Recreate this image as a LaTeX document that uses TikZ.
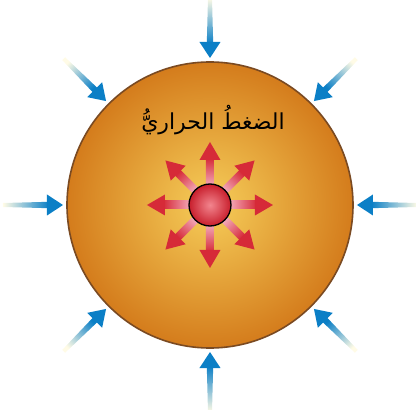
\documentclass[tikz,border=0pt]{standalone}
\usepackage{fontspec}
\newfontfamily\arabicfont[Script=Arabic]{DejaVu Sans}
\TeXXeTstate=1
\definecolor{suninner}{HTML}{F6CE5A}
\definecolor{sunouter}{HTML}{D47C1C}
\definecolor{sunedge}{HTML}{7A4A22}
\definecolor{pressblue}{HTML}{0B7FC6}
\definecolor{palecream}{HTML}{FFFBE6}
\definecolor{heatred}{HTML}{D62A38}
\definecolor{heatpink}{HTML}{F4B0C0}
\definecolor{ballhi}{HTML}{F2858E}
\definecolor{balllo}{HTML}{C81E2C}
\tikzset{
  bluehead/.style={fill=pressblue},
  redhead/.style={fill=heatred},
  sunlabel/.style={font=\arabicfont\fontsize{22}{26}\selectfont, text=black, inner sep=0pt}
}
\newcommand\inarrow[1]{%
  \begin{scope}[rotate=#1]
    \shade[top color=palecream, bottom color=pressblue, shading angle=#1-90]
      (207,2) -- (207,-2) -- (161,-3.2) -- (161,3.2) -- cycle;
    \fill[bluehead] (163,10.5) -- (147,0) -- (163,-10.5) -- cycle;
  \end{scope}}
\newcommand\outarrow[1]{%
  \begin{scope}[rotate=#1]
    \shade[top color=heatred, bottom color=heatpink, shading angle=#1-90]
      (18,4) -- (18,-4) -- (47,-4) -- (47,4) -- cycle;
    \fill[redhead] (45,10.5) -- (63,0) -- (45,-10.5) -- cycle;
  \end{scope}}
\begin{document}
\begin{tikzpicture}[x=1pt,y=1pt]
  \useasboundingbox (-210,-205) rectangle (206,205);
  \coordinate (C) at (0,0);
  % sun body
  \shade[inner color=suninner, outer color=sunouter] (C) circle (143);
  \draw[sunedge, line width=1.6] (C) circle (143);
  % inward pressure arrows
  \foreach \a in {0,45,...,315} {\inarrow{\a}}
  % outward thermal arrows
  \foreach \a in {0,45,...,315} {\outarrow{\a}}
  % core
  \shade[inner color=ballhi, outer color=balllo] (C) circle (21);
  \draw[black, line width=1.3] (C) circle (21);
  % label
  \node[sunlabel] (lbl) at (3,85) {\beginR الضغطُ الحراريُّ\endR};
\end{tikzpicture}
\end{document}
